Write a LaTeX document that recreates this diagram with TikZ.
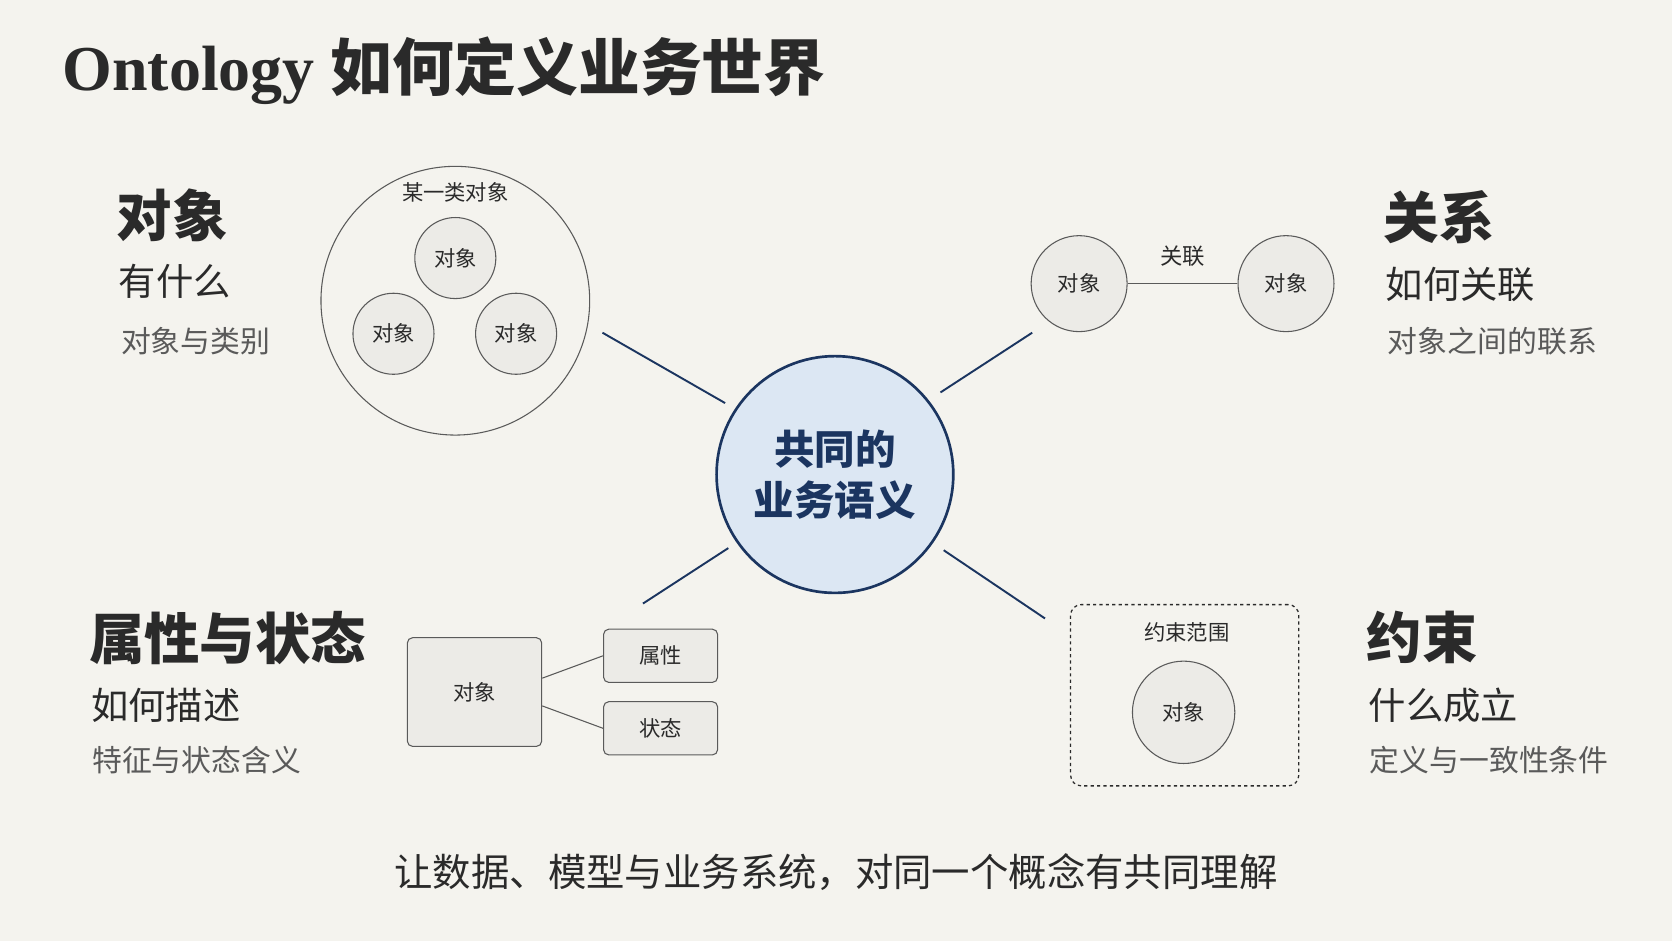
\documentclass[tikz,border=0pt]{standalone}
\usepackage{fontspec}
\setmainfont{Liberation Serif}
\newfontfamily\cjk{Noto Sans CJK SC}
\definecolor{bg}{HTML}{F4F3EE}
\definecolor{ink}{HTML}{2A2A2A}
\definecolor{gry}{HTML}{5A5A5A}
\definecolor{navy}{HTML}{1B3560}
\definecolor{lblue}{HTML}{DCE7F3}
\definecolor{boxf}{HTML}{ECEBE7}
\newcommand{\fs}[1]{\fontsize{#1}{#1}\selectfont}
\begin{document}
\begin{tikzpicture}[x=1pt,y=-1pt,
  sm/.style={circle,draw=gry,line width=1pt,fill=boxf,minimum size=76pt,inner sep=0pt,font=\cjk\fs{20}\color{ink}},
  bx/.style={draw=gry,line width=1pt,fill=boxf,rounded corners=5pt,inner sep=0pt,font=\cjk\fs{20}\color{ink}},
  h1/.style={anchor=west,font=\cjk\bfseries\fs{52}\color{ink}},
  h2/.style={anchor=west,font=\cjk\fs{35}\color{ink}},
  h3/.style={anchor=west,font=\cjk\fs{28}\color{gry}},
  cl/.style={navy,line width=1.8pt},
  thin/.style={gry,line width=1pt}]
\fill[bg] (0,0) rectangle (1568,882);
\useasboundingbox (0,0) rectangle (1568,882);
\node[anchor=west,font=\bfseries\fs{60}\color{ink}] (title) at (55,66) {Ontology \cjk\fs{58}如何定义业务世界};
% objects
\node[h1] (t1) at (106,202) {对象};
\node[h2] (t1b) at (108,264) {有什么};
\node[h3] (t1c) at (110,320) {对象与类别};
\node[circle,draw=gry,line width=1pt,minimum size=252pt] (big) at (427,282) {};
\node[font=\cjk\fs{20}\color{ink}] (bl) at (427,180) {某一类对象};
\node[sm] (o1) at (427,242) {对象};
\node[sm] (o2) at (369,313) {对象};
\node[sm] (o3) at (484,313) {对象};
% center
\node[circle,draw=navy,line width=2.5pt,fill=lblue,minimum size=222pt,align=center,font=\cjk\bfseries\fs{38}\color{navy},inner sep=0pt] (c) at (783,445) {共同的\\[10pt]业务语义};
\coordinate (a1) at (565,312); \coordinate (a2) at (680,378);
\coordinate (b1) at (968,312); \coordinate (b2) at (882,368);
\coordinate (c1) at (603,566); \coordinate (c2) at (683,514);
\coordinate (d1) at (980,580); \coordinate (d2) at (885,516);
\draw[cl] (a1)--(a2); \draw[cl] (b1)--(b2); \draw[cl] (c1)--(c2); \draw[cl] (d1)--(d2);
% relations
\node[sm,minimum size=90pt] (r1) at (1012,266) {对象};
\node[sm,minimum size=90pt] (r2) at (1206,266) {对象};
\draw[thin] (r1)--(r2);
\node[font=\cjk\fs{21}\color{ink}] (rl) at (1109,240) {关联};
\node[h1] (t2) at (1294,204) {关系};
\node[h2] (t2b) at (1296,267) {如何关联};
\node[h3] (t2c) at (1298,320) {对象之间的联系};
% attributes
\node[h1] (t3) at (80,598) {属性与状态};
\node[h2] (t3b) at (82,661) {如何描述};
\node[h3] (t3c) at (83,713) {特征与状态含义};
\node[bx,minimum width=126pt,minimum height=102pt] (ob) at (445,649) {对象};
\node[bx,minimum width=107pt,minimum height=50pt] (p1) at (619.5,615) {属性};
\node[bx,minimum width=107pt,minimum height=50pt] (p2) at (619.5,683) {状态};
\draw[thin] ([yshift=13pt]ob.east)--(p1.west);
\draw[thin] ([yshift=-13pt]ob.east)--(p2.west);
% constraints
\node[draw=ink,dashed,line width=1.2pt,rounded corners=10pt,minimum width=214pt,minimum height=170pt] (cr) at (1111,652) {};
\node[font=\cjk\fs{20}\color{ink}] (crl) at (1113,593) {约束范围};
\node[sm,minimum size=96pt] (co) at (1110,668) {对象};
\node[h1] (t4) at (1278,598) {约束};
\node[h2] (t4b) at (1280,661) {什么成立};
\node[h3] (t4c) at (1281,713) {定义与一致性条件};
\node[font=\cjk\fs{36}\color{ink}] (foot) at (784,818) {让数据、模型与业务系统，对同一个概念有共同理解};
\end{tikzpicture}
\end{document}
